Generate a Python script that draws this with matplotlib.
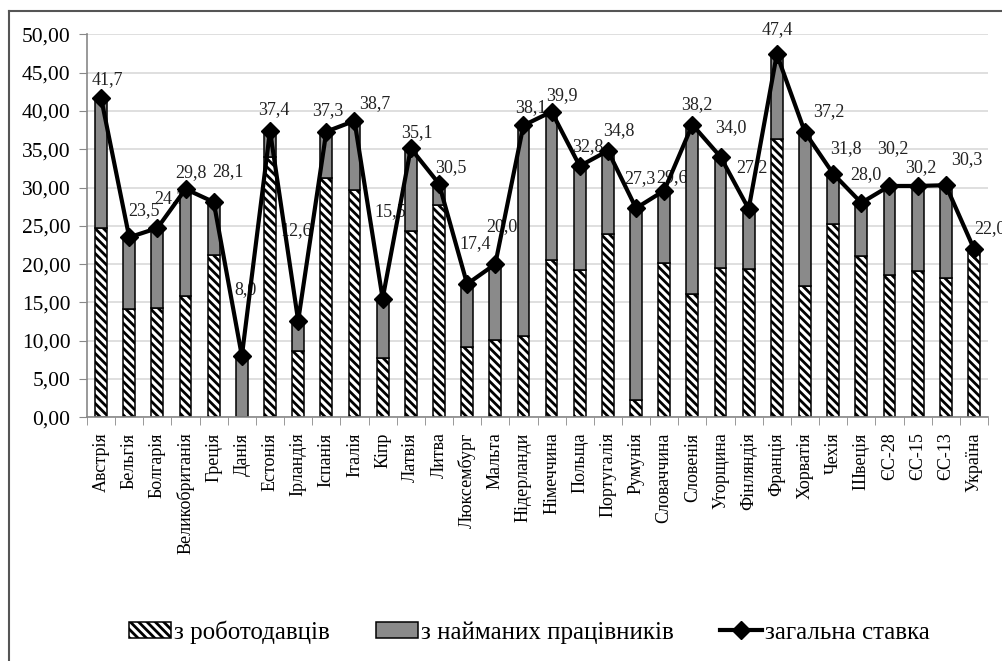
import matplotlib
matplotlib.use("Agg")
import matplotlib.pyplot as plt
from matplotlib.lines import Line2D
import numpy as np

plt.rcParams['font.family'] = ['Liberation Serif', 'DejaVu Serif']
plt.rcParams['hatch.linewidth'] = 2.0

countries = ['Австрія', 'Бельгія', 'Болгарія', 'Великобританія', 'Греція', 'Данія',
             'Естонія', 'Ірландія', 'Іспанія', 'Італія', 'Кіпр', 'Латвія', 'Литва',
             'Люксембург', 'Мальта', 'Нідерланди', 'Німеччина', 'Польща', 'Португалія',
             'Румунія', 'Словаччина', 'Словенія', 'Угорщина', 'Фінляндія', 'Франція',
             'Хорватія', 'Чехія', 'Швеція', 'ЄС-28', 'ЄС-15', 'ЄС-13', 'Україна']

# employer contribution (bottom part) and total rate
employer = [24.7, 14.1, 14.3, 15.8, 21.2, 0.0, 34.0, 8.6, 31.3, 29.7, 7.8, 24.3, 27.7,
            9.2, 10.1, 10.6, 20.6, 19.2, 23.9, 2.2, 20.2, 16.1, 19.5, 19.4, 36.3,
            17.2, 25.3, 21.0, 18.6, 19.1, 18.2, 22.0]
total = [41.7, 23.5, 24.7, 29.8, 28.1, 8.0, 37.4, 12.6, 37.3, 38.7, 15.5, 35.1, 30.5,
         17.4, 20.0, 38.1, 39.9, 32.8, 34.8, 27.3, 29.6, 38.2, 34.0, 27.2, 47.4,
         37.2, 31.8, 28.0, 30.2, 30.2, 30.3, 22.0]
employee = [round(t - e, 1) for t, e in zip(total, employer)]

# label offsets from the marker, in pixels (dx, dy)
label_offsets = [(6, 18), (15, 27), (13, 30), (5, 16), (14, 30), (4, 66), (4, 21), (-2, 90),
                 (1, 21), (20, 17), (8, 87), (6, 16), (12, 16), (8, 40), (7, 38), (7, 18),
                 (10, 16), (8, 19), (11, 20), (4, 30), (8, 13), (4, 20), (10, 29), (3, 41),
                 (0, 25), (24, 21), (13, 25), (5, 28), (3, 37), (3, 18), (21, 26), (16, 20)]

fig = plt.figure(figsize=(10.02, 6.61), dpi=100)
W, H = 1002, 661
ax = fig.add_axes([87 / W, (H - 417.3) / H, (988 - 87) / W, (417.3 - 34.3) / H])

x = np.arange(len(countries))
bw = 0.42
b1 = ax.bar(x, employer, bw, color='white', edgecolor='black', hatch='\\\\\\\\', linewidth=1.1,
            zorder=2, label='з роботодавців')
b2 = ax.bar(x, employee, bw, bottom=employer, color='#8a8a8a', edgecolor='black', linewidth=1.1,
            zorder=2, label='з найманих працівників')
ln, = ax.plot(x, total, color='black', lw=3, marker='D', ms=9, zorder=3, label='загальна ставка')

for i, t in enumerate(total):
    dx, dy = label_offsets[i]
    ax.annotate(f'{t:.1f}'.replace('.', ','), (x[i], t), xytext=(dx * 0.72, dy * 0.72),
                textcoords='offset points', ha='center', va='center', fontsize=13,
                color='#222222', zorder=1, annotation_clip=False)

ax.set_xlim(-0.5, len(countries) - 0.5)
ax.set_ylim(0, 50)
ax.set_yticks(np.arange(0, 51, 5))
ax.set_yticklabels([f'{v:.2f}'.replace('.', ',') for v in np.arange(0, 51, 5)], fontsize=15.5)
ax.set_xticks(x)
ax.set_xticklabels(countries, rotation=90, fontsize=13)
ax.set_xticks(np.arange(-0.5, len(countries), 1), minor=True)
ax.tick_params(axis='x', which='major', length=0, pad=11)
ax.tick_params(axis='x', which='minor', length=6, color='#888888', direction='out')
ax.tick_params(axis='y', length=6, color='#888888', pad=6)
ax.grid(axis='y', color='#d9d9d9', lw=1.2)
ax.set_axisbelow(True)
for s in ['top', 'right']:
    ax.spines[s].set_visible(False)
for s in ['left', 'bottom']:
    ax.spines[s].set_color('#888888')
    ax.spines[s].set_linewidth(1.2)

fig.legend([b1, b2, ln], [b1.get_label(), b2.get_label(), ln.get_label()],
           loc='center', bbox_to_anchor=(0.528, 1 - 632 / H), ncol=3, frameon=False,
           fontsize=18, handlelength=1.7, handletextpad=0.1, columnspacing=1.85,
           handleheight=0.6)

# outer frame
fig.add_artist(Line2D([9 / W, 9 / W], [0, 1 - 11 / H], color='#555555', lw=1.5,
                      transform=fig.transFigure))
fig.add_artist(Line2D([9 / W, 1], [1 - 11 / H, 1 - 11 / H], color='#555555', lw=1.5,
                      transform=fig.transFigure))

fig.savefig('out.png', dpi=100)
